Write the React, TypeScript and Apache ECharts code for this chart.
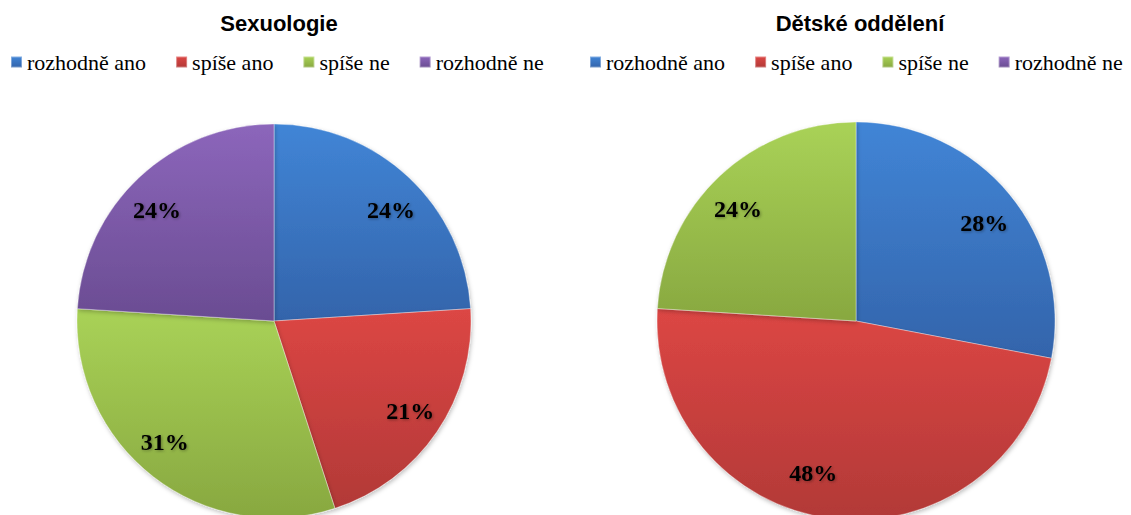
import React, { useEffect, useRef } from "react";
import * as echarts from "echarts";

const categories = ["rozhodně ano", "spíše ano", "spíše ne", "rozhodně ne"];
const sexuologieValues = [24, 21, 31, 24];
const detskeValues = [28, 48, 24, 0];
const chartTitles = ["Sexuologie", "Dětské oddělení"];

// label nudges (style only, px)
const sexuologieLabelOffsets = [[5, 8], [1, -2], [-9, -8], [-5, 8]];
const detskeLabelOffsets = [[1, 7], [-22, -12], [-5, 8], [0, 0]];

const topColors = ["#4185d6", "#dc4644", "#a9d257", "#8c66bb"];
const bottomColors = ["#3364ab", "#b23937", "#88a840", "#6a4c92"];

function grad(i: number) {
  return new echarts.graphic.LinearGradient(0, 0, 0, 1, [
    { offset: 0, color: topColors[i] },
    { offset: 1, color: bottomColors[i] },
  ]);
}

function buildData(values: number[]) {
  return categories.map((name, i) => ({
    name,
    value: values[i],
    itemStyle: { color: grad(i) },
  }));
}

function labelData(values: number[], offsets: number[][]) {
  return categories.map((name, i) => ({
    name,
    value: values[i],
    label: { offset: offsets[i] },
  }));
}

const labelStyle = {
  show: true,
  position: "inside" as const,
  fontFamily: "Liberation Serif",
  fontWeight: "bold" as const,
  fontSize: 24,
  color: "#000",
  textShadowColor: "rgba(0,0,0,0.35)",
  textShadowBlur: 3,
  textShadowOffsetX: 1,
  textShadowOffsetY: 1,
  formatter: (p: any) => (p.value ? p.value + "%" : ""),
};

const legendText = {
  fontFamily: "Liberation Serif",
  fontSize: 22,
  color: "#000",
};

export default function App() {
  const ref = useRef<HTMLDivElement>(null);
  useEffect(() => {
    document.body.style.margin = "0";
    const chart = echarts.init(ref.current!, null, { renderer: "svg" });
    const pies = [
      { values: sexuologieValues, offsets: sexuologieLabelOffsets, center: [274, 321], r: 197 },
      { values: detskeValues, offsets: detskeLabelOffsets, center: [856, 321], r: 199 },
    ];
    const series: any[] = [];
    pies.forEach((p) => {
      series.push({
        type: "pie",
        center: p.center,
        radius: [0, p.r],
        startAngle: 90,
        clockwise: true,
        label: { show: false },
        labelLine: { show: false },
        emphasis: { disabled: true },
        itemStyle: {
          borderColor: "rgba(255,255,255,0.35)",
          borderWidth: 1,
          shadowColor: "rgba(0,0,0,0.25)",
          shadowBlur: 4,
          shadowOffsetX: 1,
          shadowOffsetY: 2,
        },
        data: buildData(p.values),
      });
    });
    pies.forEach((p) => {
      series.push({
        type: "pie",
        center: p.center,
        radius: [Math.round(p.r * 0.63), p.r],
        startAngle: 90,
        clockwise: true,
        silent: true,
        label: labelStyle,
        labelLine: { show: false },
        itemStyle: { color: "rgba(0,0,0,0)", borderWidth: 0 },
        emphasis: { disabled: true },
        data: labelData(p.values, p.offsets),
      });
    });
    const legendBase = {
      top: 51,
      padding: 0,
      width: 560,
      data: categories,
      itemWidth: 11,
      itemHeight: 11,
      itemGap: 29,
      icon: "rect",
      selectedMode: false,
      textStyle: legendText,
    };
    chart.setOption({
      animation: false,
      textStyle: { fontFamily: "Liberation Serif" },
      title: [
        {
          text: chartTitles[0],
          left: 274,
          top: 7,
          textAlign: "center",
          textStyle: { fontFamily: "Liberation Sans", fontWeight: "bold", fontSize: 22, color: "#000" },
        },
        {
          text: chartTitles[1],
          left: 855,
          top: 7,
          textAlign: "center",
          textStyle: { fontFamily: "Liberation Sans", fontWeight: "bold", fontSize: 22, color: "#000" },
        },
      ],
      legend: [
        { ...legendBase, left: 10 },
        { ...legendBase, left: 589 },
      ],
      series,
    });
    return () => chart.dispose();
  }, []);
  return (
    <div
      ref={ref}
      style={{ position: "fixed", left: 0, top: 0, width: 1131, height: 515, background: "#fff" }}
    />
  );
}
